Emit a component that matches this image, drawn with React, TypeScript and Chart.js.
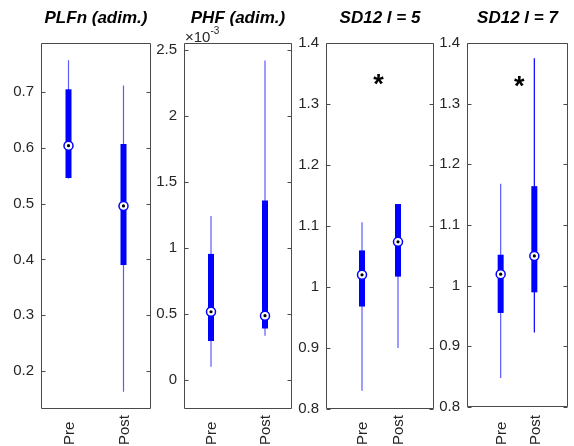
import { useEffect, useRef } from 'react';
import { Chart, registerables } from 'chart.js';

Chart.register(...registerables);

// ---------- data ----------
const categories = ['Pre', 'Post'];
const categoryPositions = [1, 2];
const titles = ['PLFn (adim.)', 'PHF (adim.)', 'SD12 l = 5', 'SD12 l = 7'];

// [lower whisker, q1, median, q3, upper whisker]
const plfnPre = [0.545, 0.546, 0.604, 0.705, 0.757];
const plfnPost = [0.163, 0.39, 0.496, 0.607, 0.712];
const phfPre = [0.1e-3, 0.295e-3, 0.517e-3, 0.955e-3, 1.242e-3];
const phfPost = [0.335e-3, 0.39e-3, 0.487e-3, 1.36e-3, 2.42e-3];
const sd5Pre = [0.83, 0.968, 1.02, 1.06, 1.106];
const sd5Post = [0.9, 1.017, 1.074, 1.136, 1.136];
const sd7Pre = [0.848, 0.955, 1.019, 1.051, 1.168];
const sd7Post = [0.923, 0.989, 1.049, 1.164, 1.375];

// y limits
const plfnRange = [0.132, 0.788];
const phfRange = [-0.22e-3, 2.553e-3];
const sdRange = [0.8, 1.4];

// tick values & labels
const plfnTicks = [0.2, 0.3, 0.4, 0.5, 0.6, 0.7];
const plfnTickLabels = ['0.2', '0.3', '0.4', '0.5', '0.6', '0.7'];
const phfTicks = [0, 0.5e-3, 1e-3, 1.5e-3, 2e-3, 2.5e-3];
const phfTickLabels = ['0', '0.5', '1', '1.5', '2', '2.5'];
const sdTicks = [0.8, 0.9, 1.0, 1.1, 1.2, 1.3, 1.4];
const sdTickLabels = ['0.8', '0.9', '1', '1.1', '1.2', '1.3', '1.4'];

// significance stars
const sd5Star = { x: 1.46, y: 1.343 };
const sd7Star = { x: 1.55, y: 1.34 };

// ---------- style ----------
const FONT = '"Liberation Sans", Arial, Helvetica, sans-serif';
const TEXT = '#262626';
const AXIS = '#4a4a4a';
const BLUE = '#0000ff';
const WHISK = '#5c5cff';
const W = 574;
const H = 446;
const YW = 40;

type Panel = {
  title: string;
  pre: number[];
  post: number[];
  yRange: number[];
  ticks: number[];
  tickLabels: string[];
  xRange: number[];
  area: number[]; // left, right, top, bottom
  star: { x: number; y: number } | null;
  exponent: boolean;
  whiskerColors: string[];
};

const panels: Panel[] = [
  { title: titles[0], pre: plfnPre, post: plfnPost, yRange: plfnRange, ticks: plfnTicks, tickLabels: plfnTickLabels, xRange: [0.5, 2.5], area: [41, 151, 43, 409], star: null, exponent: false, whiskerColors: [WHISK, WHISK] },
  { title: titles[1], pre: phfPre, post: phfPost, yRange: phfRange, ticks: phfTicks, tickLabels: phfTickLabels, xRange: [0.5, 2.5], area: [184, 292, 43, 409], star: null, exponent: true, whiskerColors: [WHISK, WHISK] },
  { title: titles[2], pre: sd5Pre, post: sd5Post, yRange: sdRange, ticks: sdTicks, tickLabels: sdTickLabels, xRange: [0, 3], area: [326, 434, 43, 409], star: sd5Star, exponent: false, whiskerColors: [WHISK, WHISK] },
  { title: titles[3], pre: sd7Pre, post: sd7Post, yRange: sdRange, ticks: sdTicks, tickLabels: sdTickLabels, xRange: [0, 3], area: [467, 573, 43, 407], star: sd7Star, exponent: false, whiskerColors: [WHISK, BLUE] },
];

function makeChart(canvas: HTMLCanvasElement, p: Panel) {
  const stats = [p.pre, p.post];
  const datasets: any[] = [];
  categories.forEach((_, i) => {
    const x = categoryPositions[i];
    const s = stats[i];
    datasets.push({
      type: 'scatter',
      data: [{ x, y: s[0] }, { x, y: s[4] }],
      showLine: true,
      borderColor: p.whiskerColors[i],
      borderWidth: 1.2,
      pointRadius: 0,
      order: 3,
    });
    datasets.push({
      type: 'scatter',
      data: [{ x, y: s[1] }, { x, y: s[3] }],
      showLine: true,
      borderColor: BLUE,
      borderWidth: 6,
      borderCapStyle: 'butt',
      pointRadius: 0,
      order: 2,
    });
  });
  datasets.push({
    type: 'scatter',
    data: categories.map((_, i) => ({ x: categoryPositions[i], y: stats[i][2] })),
    pointRadius: 4.5,
    pointBackgroundColor: '#ffffff',
    pointBorderColor: BLUE,
    pointBorderWidth: 1.5,
    order: 1,
  });
  datasets.push({
    type: 'scatter',
    data: categories.map((_, i) => ({ x: categoryPositions[i], y: stats[i][2] })),
    pointRadius: 1.6,
    pointBackgroundColor: '#000000',
    pointBorderWidth: 0,
    order: 0,
  });

  const [L, R, T, B] = p.area;

  const framePlugin = {
    id: 'frame',
    afterDraw(chart: any) {
      const ctx = chart.ctx as CanvasRenderingContext2D;
      const a = chart.chartArea;
      const ys = chart.scales.y;
      const xs = chart.scales.x;
      ctx.save();
      // box
      ctx.strokeStyle = AXIS;
      ctx.lineWidth = 1;
      const l = Math.round(a.left) + 0.5;
      const r = Math.round(a.right) - 0.5;
      const t = Math.round(a.top) + 0.5;
      const b = Math.round(a.bottom) - 0.5;
      ctx.beginPath();
      ctx.rect(l, t, r - l, b - t);
      ctx.stroke();
      // inward ticks
      ctx.beginPath();
      ys.ticks.forEach((tk: any) => {
        const py = Math.round(ys.getPixelForValue(tk.value)) + 0.5;
        ctx.moveTo(l, py);
        ctx.lineTo(l + 4, py);
        ctx.moveTo(r, py);
        ctx.lineTo(r - 4, py);
      });
      ctx.stroke();
      // title
      ctx.fillStyle = '#000000';
      ctx.font = `italic bold 17px ${FONT}`;
      ctx.textAlign = 'center';
      ctx.textBaseline = 'alphabetic';
      ctx.fillText(p.title, (a.left + a.right) / 2, 23);
      // x category labels (rotated)
      ctx.fillStyle = TEXT;
      ctx.font = `15px ${FONT}`;
      categories.forEach((c, i) => {
        const px = xs.getPixelForValue(categoryPositions[i]);
        ctx.save();
        ctx.translate(px, 445);
        ctx.rotate(-Math.PI / 2);
        ctx.textAlign = 'left';
        ctx.textBaseline = 'alphabetic';
        ctx.fillText(c, 0, 5.4);
        ctx.restore();
      });
      // exponent
      if (p.exponent) {
        ctx.textAlign = 'left';
        ctx.font = `15px ${FONT}`;
        const base = '\u00d710';
        ctx.fillText(base, a.left + 1, 42);
        const w = ctx.measureText(base).width;
        ctx.font = `10px ${FONT}`;
        ctx.fillText('-3', a.left + 1 + w, 34);
      }
      // significance star
      if (p.star) {
        ctx.fillStyle = '#000000';
        ctx.font = `bold 27px ${FONT}`;
        ctx.textAlign = 'center';
        ctx.textBaseline = 'alphabetic';
        ctx.fillText('*', xs.getPixelForValue(p.star.x), ys.getPixelForValue(p.star.y) + 15.5);
      }
      ctx.restore();
    },
  };

  return new Chart(canvas, {
    type: 'scatter',
    data: { datasets },
    options: {
      animation: false,
      responsive: false,
      devicePixelRatio: 1,
      events: [],
      layout: { padding: { left: L - YW, right: W - R, top: T, bottom: H - B } },
      plugins: { legend: { display: false }, tooltip: { enabled: false }, title: { display: false } },
      scales: {
        x: { type: 'linear', min: p.xRange[0], max: p.xRange[1], display: false },
        y: {
          type: 'linear',
          position: 'left',
          min: p.yRange[0],
          max: p.yRange[1],
          afterFit: (s: any) => {
            s.width = YW;
          },
          afterBuildTicks: (s: any) => {
            s.ticks = p.ticks.map((v) => ({ value: v }));
          },
          ticks: {
            autoSkip: false,
            callback: (_v: any, i: number) => p.tickLabels[i],
            font: { family: FONT, size: 15 },
            color: TEXT,
            padding: 7,
          },
          grid: { display: false, drawTicks: false },
          border: { display: false },
        },
      },
    } as any,
    plugins: [framePlugin],
  });
}

export default function App() {
  const refs = useRef<(HTMLCanvasElement | null)[]>([]);
  useEffect(() => {
    const charts = panels.map((p, i) => makeChart(refs.current[i] as HTMLCanvasElement, p));
    return () => charts.forEach((c) => c.destroy());
  }, []);
  return (
    <div style={{ position: 'absolute', left: 0, top: 0, width: W, height: H, background: '#ffffff' }}>
      {panels.map((_, i) => (
        <canvas
          key={i}
          ref={(el) => {
            refs.current[i] = el;
          }}
          width={W}
          height={H}
          style={{ position: 'absolute', left: 0, top: 0, width: W, height: H }}
        />
      ))}
    </div>
  );
}
